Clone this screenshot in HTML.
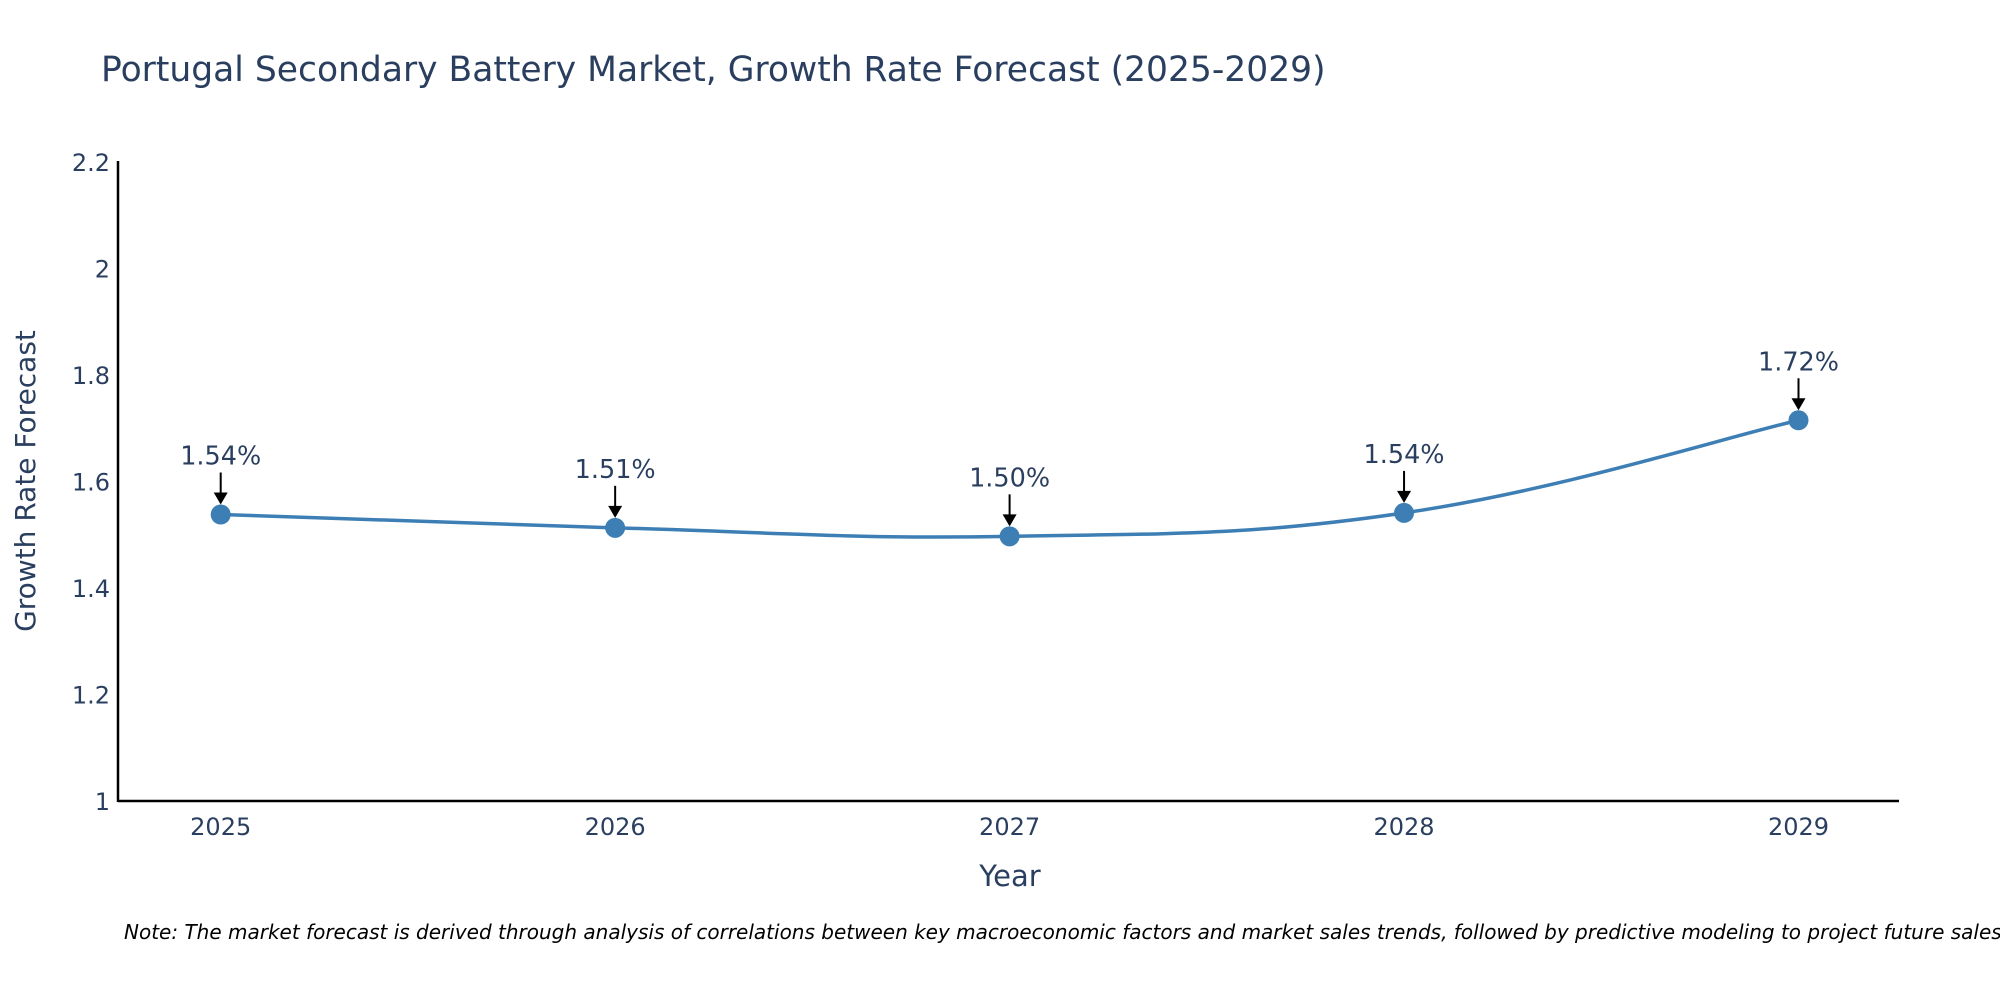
<!DOCTYPE html>
<html><head><meta charset="utf-8"><style>
body{margin:0;background:#fff;}
svg{font-family:"DejaVu Sans","Liberation Sans",sans-serif;}
</style></head><body>
<svg id="chart" width="2000" height="1000" viewBox="0 0 2000 1000">
<text x="101" y="81" font-size="34.5" fill="#2a3f5f">Portugal Secondary Battery Market, Growth Rate Forecast (2025-2029)</text>
<g id="yticks"></g><g id="xticks"></g>
<line x1="118" y1="801" x2="1899" y2="801" stroke="#000" stroke-width="2.5"/>
<line x1="118" y1="161" x2="118" y2="802" stroke="#000" stroke-width="2.5"/>
<path id="line" fill="none" stroke="#3d7fb4" stroke-width="3.5"/>
<g id="marks"></g>
<text x="1010" y="886" font-size="29" fill="#2a3f5f" text-anchor="middle">Year</text>
<text transform="translate(35,481) rotate(-90)" font-size="28" fill="#2a3f5f" text-anchor="middle">Growth Rate Forecast</text>
<text x="124" y="939" font-size="20" font-style="italic" fill="#000">Note: The market forecast is derived through analysis of correlations between key macroeconomic factors and market sales trends, followed by predictive modeling to project future sales.</text>
</svg>
<script>
const years = ["2025","2026","2027","2028","2029"];
const values = [1.538, 1.513, 1.497, 1.541, 1.715];
const labels = ["1.54%","1.51%","1.50%","1.54%","1.72%"];
const yTicks = [1, 1.2, 1.4, 1.6, 1.8, 2, 2.2];
const yTickLabels = ["1","1.2","1.4","1.6","1.8","2","2.2"];
const NS="http://www.w3.org/2000/svg";
const x0=220.7, x1=1798.5, yB=801, yT=162, vMin=1, vMax=2.2;
const X=i=>x0+(x1-x0)*i/(years.length-1);
const Y=v=>yB-(v-vMin)/(vMax-vMin)*(yB-yT);
function mk(t,a,p){const e=document.createElementNS(NS,t);for(const k in a)e.setAttribute(k,a[k]);p.appendChild(e);return e;}
const yt=document.getElementById('yticks');
yTicks.forEach((v,i)=>{const t=mk('text',{x:110,y:Y(v)+9,'font-size':24,fill:'#2a3f5f','text-anchor':'end'},yt);t.textContent=yTickLabels[i];

});
const xt=document.getElementById('xticks');
years.forEach((y,i)=>{const t=mk('text',{x:X(i),y:835,'font-size':24,fill:'#2a3f5f','text-anchor':'middle'},xt);t.textContent=y;

});
const P=values.map((v,i)=>[X(i),Y(v)]);
let d=`M${P[0][0]},${P[0][1]}`;const s=0.2;
for(let i=0;i<P.length-1;i++){const a=P[Math.max(i-1,0)],b=P[i],c=P[i+1],e=P[Math.min(i+2,P.length-1)];
d+=` C${b[0]+(c[0]-a[0])*s},${b[1]+(c[1]-a[1])*s} ${c[0]-(e[0]-b[0])*s},${c[1]-(e[1]-b[1])*s} ${c[0]},${c[1]}`;}
document.getElementById('line').setAttribute('d',d);
const g=document.getElementById('marks');
P.forEach((p,i)=>{
const c=mk('circle',{cx:p[0],cy:p[1],r:10,fill:'#3d7fb4'},g);


const l=mk('line',{x1:p[0],y1:p[1]-42,x2:p[0],y2:p[1]-20,stroke:'#000','stroke-width':2},g);


const h=mk('path',{d:`M${p[0]-7},${p[1]-22} L${p[0]+7},${p[1]-22} L${p[0]},${p[1]-10} Z`,fill:'#000'},g);


const t=mk('text',{x:p[0],y:p[1]-50,'font-size':25.5,fill:'#2a3f5f','text-anchor':'middle'},g);t.textContent=labels[i];


});
</script>
</body></html>
